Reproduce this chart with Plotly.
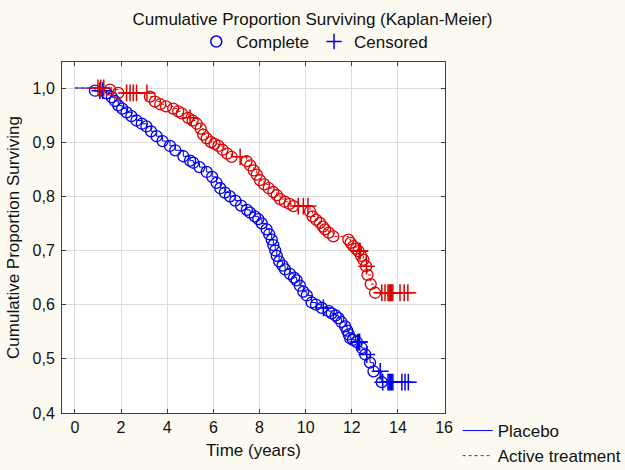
import plotly.graph_objects as go

# ---------------- data ----------------
start_t = 0.0
start_s = 1.0

placebo_event_t = [0.87, 1.37, 1.60, 1.73, 1.88, 2.05, 2.24, 2.45, 2.67, 2.90, 3.10, 3.30, 3.54, 3.80,
                   4.12, 4.35, 4.70, 4.99, 5.13, 5.40, 5.71, 5.95, 6.14, 6.30, 6.50, 6.72, 6.95, 7.20,
                   7.45, 7.59, 7.80, 7.95, 8.10, 8.31, 8.42, 8.53, 8.60, 8.68, 8.75, 8.85, 9.00, 9.11,
                   9.32, 9.50, 9.61, 9.75, 9.90, 10.05, 10.26, 10.45, 10.70, 11.00, 11.13, 11.30, 11.42,
                   11.55, 11.71, 11.80, 11.87, 11.93, 12.05, 12.22, 12.43, 12.58, 12.79, 12.94, 13.30]
placebo_event_s = [0.995, 0.990, 0.983, 0.976, 0.968, 0.962, 0.955, 0.948, 0.940, 0.934, 0.929, 0.920, 0.911, 0.902,
                   0.893, 0.885, 0.874, 0.866, 0.862, 0.854, 0.845, 0.836, 0.825, 0.815, 0.807, 0.800, 0.792, 0.783,
                   0.775, 0.770, 0.763, 0.758, 0.750, 0.739, 0.730, 0.720, 0.710, 0.700, 0.690, 0.680, 0.672, 0.665,
                   0.657, 0.650, 0.645, 0.635, 0.624, 0.617, 0.604, 0.600, 0.594, 0.588, 0.584, 0.580, 0.575,
                   0.568, 0.560, 0.552, 0.545, 0.538, 0.535, 0.531, 0.520, 0.508, 0.493, 0.477, 0.457]
placebo_cens_t = [1.08, 1.20, 10.77, 12.26, 12.30, 12.34, 12.65, 13.23, 13.34, 13.57, 13.62, 13.67, 13.72,
                  13.78, 14.17, 14.31, 14.45]
placebo_cens_s = [0.995, 0.995, 0.594, 0.531, 0.531, 0.531, 0.508, 0.477, 0.457, 0.457, 0.457, 0.457, 0.457,
                  0.457, 0.457, 0.457, 0.457]
placebo_end_t = 14.60

active_event_t = [1.52, 1.88, 3.25, 3.47, 3.70, 3.95, 4.26, 4.48, 4.63, 4.91, 5.10, 5.28, 5.45, 5.56, 5.71,
                  5.90, 6.05, 6.22, 6.40, 6.60, 6.79, 7.44, 7.60, 7.75, 7.88, 8.02, 8.20, 8.40, 8.60, 8.75,
                  8.89, 9.10, 9.30, 9.47, 10.19, 10.30, 10.45, 10.62, 10.75, 10.84, 11.00, 11.20, 11.85,
                  11.95, 12.07, 12.18, 12.29, 12.40, 12.50, 12.62, 12.68, 12.82, 13.01]
active_event_s = [0.997, 0.991, 0.984, 0.975, 0.970, 0.966, 0.962, 0.957, 0.953, 0.945, 0.940, 0.934, 0.925, 0.914, 0.907,
                  0.900, 0.897, 0.893, 0.886, 0.879, 0.873, 0.865, 0.857, 0.848, 0.840, 0.830, 0.822, 0.815, 0.808, 0.802,
                  0.795, 0.790, 0.786, 0.782, 0.772, 0.763, 0.757, 0.751, 0.744, 0.739, 0.733, 0.726, 0.720,
                  0.714, 0.708, 0.703, 0.699, 0.690, 0.683, 0.671, 0.655, 0.638, 0.622]
active_cens_t = [1.00, 1.12, 1.25, 2.24, 2.39, 2.53, 2.67, 3.12, 4.99, 7.16, 9.68, 9.90, 10.10, 12.33, 12.36,
                 12.64, 13.30, 13.44, 13.57, 13.62, 13.67, 13.72, 13.78, 14.09, 14.27, 14.43]
active_cens_s = [1.000, 1.000, 1.000, 0.991, 0.991, 0.991, 0.991, 0.991, 0.945, 0.873, 0.782, 0.782, 0.782, 0.699, 0.699,
                 0.671, 0.622, 0.622, 0.622, 0.622, 0.622, 0.622, 0.622, 0.622, 0.622, 0.622]
active_end_t = 14.60

x_ticks = [0, 2, 4, 6, 8, 10, 12, 14, 16]
group_names = ["Placebo", "Active treatment"]
marker_names = ["Complete", "Censored"]

BLUE = "#0000F0"
RED = "#DC0000"
FONT = "Liberation Sans, Arial, sans-serif"


def step_points(ev_t, ev_s, c_t, c_s, end_t):
    pts = [(start_t, start_s)] + list(zip(ev_t, ev_s)) + list(zip(c_t, c_s))
    pts.sort(key=lambda p: (p[0], -p[1]))
    pts.append((end_t, pts[-1][1]))
    return [p[0] for p in pts], [p[1] for p in pts]


fig = go.Figure()

groups = [
    (group_names[0], BLUE, "solid", placebo_event_t, placebo_event_s, placebo_cens_t, placebo_cens_s, placebo_end_t),
    (group_names[1], RED, "dot", active_event_t, active_event_s, active_cens_t, active_cens_s, active_end_t),
]

for name, col, dash, et, es, ct, cs, end in groups:
    lx, ly = step_points(et, es, ct, cs, end)
    fig.add_trace(go.Scatter(x=lx, y=ly, mode="lines", name=name, line=dict(color=col, width=1, dash=dash, shape="hv"),
                             legend="legend", hoverinfo="skip"))
    fig.add_trace(go.Scatter(x=et, y=es, mode="markers", showlegend=False,
                             marker=dict(symbol="circle-open", size=11, color=col, line=dict(width=1.3, color=col))))
    fig.add_trace(go.Scatter(x=ct, y=cs, mode="markers", showlegend=False,
                             marker=dict(symbol="cross-thin-open", size=12, color=col, line=dict(width=1.5, color=col))))

# legend for marker meaning
fig.add_trace(go.Scatter(x=[None], y=[None], mode="markers", name=marker_names[0], legend="legend2",
                         marker=dict(symbol="circle-open", size=11, color=BLUE, line=dict(width=1.5, color=BLUE))))
fig.add_trace(go.Scatter(x=[None], y=[None], mode="markers", name=marker_names[1], legend="legend2",
                         marker=dict(symbol="cross-thin-open", size=11, color=BLUE, line=dict(width=1.5, color=BLUE))))

axis_common = dict(showline=True, linecolor="#3C3C3C", linewidth=1, mirror="ticks", ticks="inside",
                   ticklen=4, tickcolor="#3C3C3C", showgrid=True, gridcolor="#DCDCDC", gridwidth=1,
                   zeroline=False, tickfont=dict(size=16, color="#111"))

fig.update_layout(
    width=625, height=470,
    paper_bgcolor="#FCFAF0", plot_bgcolor="#FFFFFF",
    font=dict(family=FONT, size=17, color="#111"),
    separators=", ",
    margin=dict(l=62, r=180, t=62, b=57, autoexpand=False),
    title=dict(text="Cumulative Proportion Surviving (Kaplan-Meier)", x=0.5, xanchor="center",
               y=0.96, yanchor="middle", font=dict(size=17, color="#111")),
    xaxis=dict(range=[-0.56, 16.04], tickvals=x_ticks,
               title=dict(text="Time (years)", standoff=8, font=dict(size=17)), **axis_common),
    yaxis=dict(range=[0.4, 1.048], tick0=0.4, dtick=0.1, tickformat=".1f", ticklabelstandoff=3,
               title=dict(text="Cumulative Proportion Surviving", standoff=8, font=dict(size=17)), **axis_common),
    showlegend=True,
    legend=dict(x=1.033, xanchor="left", y=0.0, yanchor="top", bgcolor="rgba(0,0,0,0)",
                itemwidth=30, font=dict(size=17), tracegroupgap=0),
    legend2=dict(orientation="h", x=0.66, xanchor="center", y=1.057, yanchor="middle",
                 bgcolor="rgba(0,0,0,0)", font=dict(size=17), itemwidth=30),
)

fig.write_html("out.html", config={"displayModeBar": False},
               post_script="document.body.style.margin='0px';")
